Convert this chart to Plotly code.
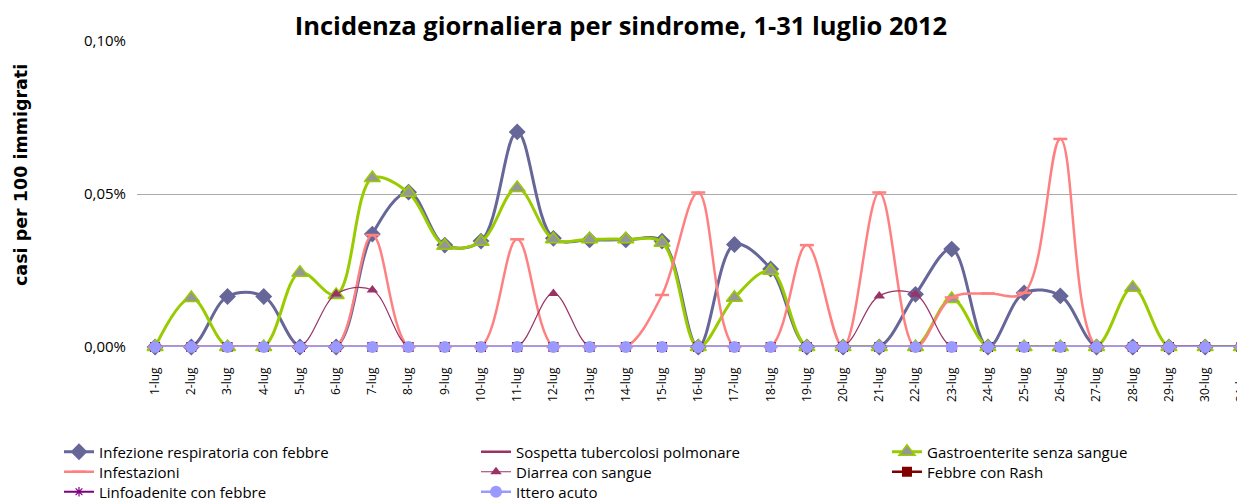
import plotly.graph_objects as go

days = [f"{d}-lug" for d in range(1, 32)]

# values in percent (casi per 100 immigrati)
resp = [0, 0, 0.0165, 0.0165, 0, 0, 0.0369, 0.0506, 0.0333, 0.0346, 0.0703, 0.0355, 0.035,
        0.035, 0.0346, 0, 0.0335, 0.0255, 0, 0, 0, 0.0172, 0.032, 0, 0.0177, 0.0167, 0, 0, 0, 0, 0]
tbc = [0] * 31
gastro = [0, 0.016, 0, 0, 0.0243, 0.017, 0.0552, 0.0504, 0.0331, 0.0344, 0.052, 0.0352, 0.0352,
          0.0352, 0.0341, 0, 0.0161, 0.0249, 0, 0, 0, 0, 0.0157, 0, 0, 0, 0, 0.0194, 0, 0, 0]
infest = [0, 0, 0, 0, 0, 0, 0.0366, 0, 0, 0, 0.0352, 0, 0, 0, 0.017, 0.0505, 0, 0, 0.0333, 0,
          0.0505, 0, 0.0162, 0.0175, 0.0177, 0.068, 0, 0, 0, 0, 0]
diarrea = [0, 0, 0, 0, 0, 0.0173, 0.0186, 0, 0, 0, 0, 0.0175, 0, 0, 0, 0, 0, 0, 0, 0,
           0.0167, 0.0172, 0, 0, 0, 0, 0, 0, 0, 0, 0]
rash = [0] * 31
linfo = [0] * 31
ittero = [0] * 31

yticks = [0, 0.05, 0.10]
ytick_labels = ["0,00%", "0,05%", "0,10%"]

FONT = "Open Sans, Noto Sans, sans-serif"

# page offset (default body margin) and target geometry in screen pixels
OFF = 8
W, H = 1245 - OFF, 502 - OFF
L, R, T, B = 137 - OFF, 1245 - OFF, 41 - OFF, 347 - OFF
PW, PH = R - L, B - T

fig = go.Figure()

def add(name, y, color, width, symbol, msize, mcolor, mline_color=None, mline_width=0, legend="legend"):
    fig.add_trace(go.Scatter(
        x=days, y=y, name=name, mode="lines+markers",
        line=dict(color=color, width=width, shape="spline", smoothing=1.0),
        marker=dict(symbol=symbol, size=msize, color=mcolor,
                    line=dict(color=mline_color or mcolor, width=mline_width)),
        cliponaxis=False, legend=legend,
    ))

add("Infezione respiratoria con febbre", resp, "#666699", 3, "diamond", 13, "#666699", legend="legend")
add("Sospetta tubercolosi polmonare", tbc, "#993366", 2.5, "circle", 0.1, "rgba(0,0,0,0)", legend="legend")
add("Gastroenterite senza sangue", gastro, "#99CC00", 3, "triangle-up", 14, "#969696", "#99CC00", 1.5, legend="legend4")
add("Infestazioni", infest, "#FF8080", 2.5, "line-ew", 10, "#FF8080", "#FF8080", 2.5, legend="legend2")
add("Diarrea con sangue", diarrea, "#993366", 1.2, "triangle-up", 10, "#993366", legend="legend2")
add("Febbre con Rash", rash, "#800000", 2.5, "square", 10, "#800000", legend="legend5")
add("Linfoadenite con febbre", linfo, "#800080", 2, "asterisk-open", 8, "#800080", "#800080", 1.2, legend="legend3")
add("Ittero acuto", ittero, "#9999FF", 2.5, "circle", 12, "#9999FF", legend="legend3")

def leg(row_y, text_x):
    return dict(orientation="h", yanchor="middle", y=(B - (row_y - OFF)) / PH,
                xanchor="left", x=((text_x - 41 - OFF) - L) / PW,
                entrywidthmode="pixels", entrywidth=372,
                font=dict(family=FONT, size=15, color="#000000"),
                bgcolor="rgba(0,0,0,0)", borderwidth=0, itemclick=False)

fig.update_layout(
    width=W, height=H,
    margin=dict(l=L, r=W - R, t=T, b=H - B, autoexpand=False),
    paper_bgcolor="white", plot_bgcolor="white",
    font=dict(family=FONT, size=13, color="#000000"),
    title=dict(text="<b>Incidenza giornaliera per sindrome, 1-31 luglio 2012</b>",
               x=(621 - OFF) / W, xref="container", xanchor="center",
               y=1 - (26 - OFF) / H, yref="container", yanchor="middle",
               font=dict(family=FONT, size=25.5, color="#000000")),
    xaxis=dict(type="category", range=[-0.5, 30.1], showgrid=False, zeroline=False,
               showline=False, ticks="", tickangle=-90, ticklabelstandoff=17,
               tickfont=dict(family=FONT, size=12, color="#000000")),
    yaxis=dict(range=[0, 0.10], tickvals=yticks, ticktext=ytick_labels,
               showgrid=True, gridcolor="#ABABAB", gridwidth=1.2, zeroline=False,
               showline=False, ticks="", ticklabelstandoff=10,
               tickfont=dict(family=FONT, size=15, color="#000000")),
    legend=leg(452, 100),
    legend2=leg(472, 100),
    legend3=leg(492, 100),
    legend4=leg(452, 928),
    legend5=leg(472, 928),
    showlegend=True,
)

fig.add_annotation(text="<b>casi per 100 immigrati</b>", textangle=-90,
                   xref="paper", yref="paper", x=((21 - OFF) - L) / PW, y=(B - (175 - OFF)) / PH,
                   xanchor="center", yanchor="middle", showarrow=False,
                   font=dict(family="DejaVu Sans, sans-serif", size=17.5, color="#000000"))

fig.write_html("out.html")
